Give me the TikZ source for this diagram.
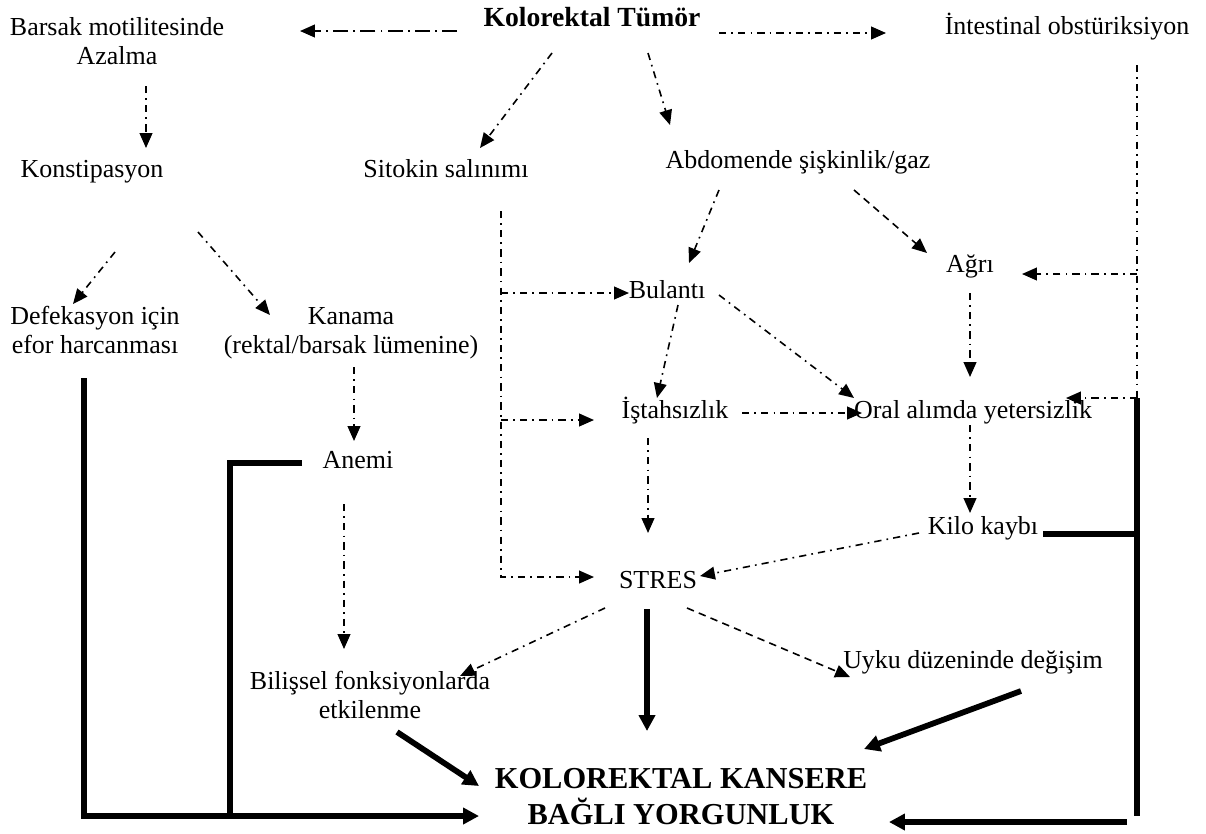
\documentclass[tikz,border=0pt]{standalone}
\usepackage{fontspec}
\setmainfont{Liberation Serif}
\usetikzlibrary{arrows.meta}

\begin{document}
\begin{tikzpicture}[x=0.47pt,y=-0.47pt,
  metin/.style={font=\fontsize{12.2}{13.6}\selectfont,inner sep=0pt,anchor=base,align=center},
  baslik/.style={font=\fontsize{13}{15}\selectfont\bfseries,inner sep=0pt,anchor=base,align=center},
  sonuc/.style={font=\fontsize{14.3}{16.5}\selectfont\bfseries,inner sep=0pt,anchor=base,align=center},
  cizgi/.style={line width=0.75pt,dash pattern=on 3.4pt off 2.4pt on 0.8pt off 2.4pt},
  ok/.style={cizgi,-{Triangle[length=7pt,width=6pt]}},
  uzunok/.style={ok,dash pattern=on 7pt off 2.5pt on 0.8pt off 2.5pt},
  kesikok/.style={ok,dash pattern=on 3.5pt off 2.5pt},
  kalin/.style={line width=2.7pt},
  kalinok/.style={kalin,-{Triangle[length=7.5pt,width=7.5pt]}}]
\useasboundingbox (0,0) rectangle (1206,833);
%kutular
  \node[baslik] (tumor) at (592,26) {Kolorektal Tümör};
  \node[metin] (barsak) at (117,64) {Barsak motilitesinde\\Azalma};
  \node[metin] (intestinal) at (1067,34) {İntestinal obstüriksiyon};
  \node[metin] (konst) at (92,177) {Konstipasyon};
  \node[metin] (sitokin) at (446,177) {Sitokin salınımı};
  \node[metin] (abdomen) at (798,168) {Abdomende şişkinlik/gaz};
  \node[metin] (agri) at (970,272) {Ağrı};
  \node[metin] (bulanti) at (667,298) {Bulantı};
  \node[metin] (defek) at (95,353) {Defekasyon için\\efor harcanması};
  \node[metin] (kanama) at (351,353) {Kanama\\(rektal/barsak lümenine)};
  \node[metin] (istah) at (675,418) {İştahsızlık};
  \node[metin] (oral) at (973,418) {Oral alımda yetersizlik};
  \node[metin] (anemi) at (358,468) {Anemi};
  \node[metin] (kilo) at (983,534) {Kilo kaybı};
  \node[metin] (stres) at (658,588) {STRES};
  \node[metin] (bilissel) at (370,718) {Bilişsel fonksiyonlarda\\etkilenme};
  \node[metin] (uyku) at (973,668) {Uyku düzeninde değişim};
  \node[sonuc] (kky) at (681,824) {KOLOREKTAL KANSERE\\BAĞLI YORGUNLUK};
%kollar
  \coordinate (sb1) at (501,293);
  \coordinate (sb2) at (501,420);
  \coordinate (sb3) at (501,577);
  \coordinate (ib1) at (1137,274);
  \coordinate (ib2) at (1137,398);
  \coordinate (ib3) at (1137,816);
  \coordinate (kb) at (1137,534);
  \coordinate (lk) at (84,816);
  \coordinate (ak) at (230,463);
  \coordinate (ak2) at (230,816);
  \coordinate (sag) at (1127,822);
%tumorden cikan oklar
  \draw[uzunok] ([shift={(-135,5)}]tumor.base) -- ([shift={(183,-33)}]barsak.base);
  \draw[ok] ([shift={(127,7)}]tumor.base) -- ([shift={(-181,-1)}]intestinal.base);
  \draw[ok] ([shift={(-40,27)}]tumor.base) -- ([shift={(34,-29)}]sitokin.base);
  \draw[ok] ([shift={(56,27)}]tumor.base) -- ([shift={(-128,-43)}]abdomen.base);
%sol taraf
  \draw[ok] ([shift={(29,22)}]barsak.base) -- ([shift={(54,-29)}]konst.base);
  \draw[ok] ([shift={(23,75)}]konst.base) -- ([shift={(-22,-49)}]defek.base);
  \draw[ok] ([shift={(106,55)}]konst.base) -- ([shift={(-81,-38)}]kanama.base);
  \draw[ok] ([shift={(3,14)}]kanama.base) -- ([shift={(-4,-27)}]anemi.base);
  \draw[ok] ([shift={(-14,36)}]anemi.base) -- ([shift={(-26,-69)}]bilissel.base);
%sitokin
  \draw[ok] ([shift={(55,34)}]sitokin.base) -- (sb3) -- ([shift={(-64,-11)}]stres.base);
  \draw[ok] (sb1) -- ([shift={(-38,-5)}]bulanti.base);
  \draw[ok] (sb2) -- ([shift={(-81,2)}]istah.base);
%orta
  \draw[ok] ([shift={(-79,22)}]abdomen.base) -- ([shift={(22,-35)}]bulanti.base);
  \draw[kesikok] ([shift={(56,22)}]abdomen.base) -- ([shift={(-43,-19)}]agri.base);
  \draw[ok] ([shift={(11,7)}]bulanti.base) -- ([shift={(-18,-20)}]istah.base);
  \draw[ok] ([shift={(52,-3)}]bulanti.base) -- ([shift={(-119,-20)}]oral.base);
  \draw[ok] ([shift={(67,-5)}]istah.base) -- ([shift={(-111,-5)}]oral.base);
  \draw[ok] ([shift={(0,21)}]agri.base) -- ([shift={(-3,-41)}]oral.base);
  \draw[ok] ([shift={(-3,7)}]oral.base) -- ([shift={(-13,-21)}]kilo.base);
  \draw[ok] ([shift={(-64,-1)}]kilo.base) -- ([shift={(42,-12)}]stres.base);
  \draw[ok] ([shift={(-27,20)}]istah.base) -- ([shift={(-10,-55)}]stres.base);
%intestinal
  \draw[cizgi] ([shift={(70,31)}]intestinal.base) -- (ib2);
  \draw[ok] (ib1) -- ([shift={(52,2)}]agri.base);
  \draw[ok] (ib2) -- ([shift={(93,-20)}]oral.base);
%stres
  \draw[ok] ([shift={(-53,20)}]stres.base) -- ([shift={(90,-42)}]bilissel.base);
  \draw[kesikok] ([shift={(29,20)}]stres.base) -- ([shift={(-123,9)}]uyku.base);
%yorgunluga giden kalin oklar
  \draw[kalinok] ([shift={(-11,21)}]stres.base) -- ([shift={(-34,-93)}]kky.base);
  \draw[kalinok] ([shift={(27,14)}]bilissel.base) -- ([shift={(-202,-38)}]kky.base);
  \draw[kalinok] ([shift={(48,23)}]uyku.base) -- ([shift={(183,-75)}]kky.base);
  \draw[kalinok] ([shift={(-11,25)}]defek.base) -- (lk) -- ([shift={(-202,-8)}]kky.base);
  \draw[kalin] ([shift={(-56,-5)}]anemi.base) -- (ak) -- (ak2);
  \draw[kalin] ([shift={(60,0)}]kilo.base) -- (kb);
  \draw[kalin] (ib2) -- (ib3);
  \draw[kalinok] (sag) -- ([shift={(208,-2)}]kky.base);
\end{tikzpicture}
\end{document}
